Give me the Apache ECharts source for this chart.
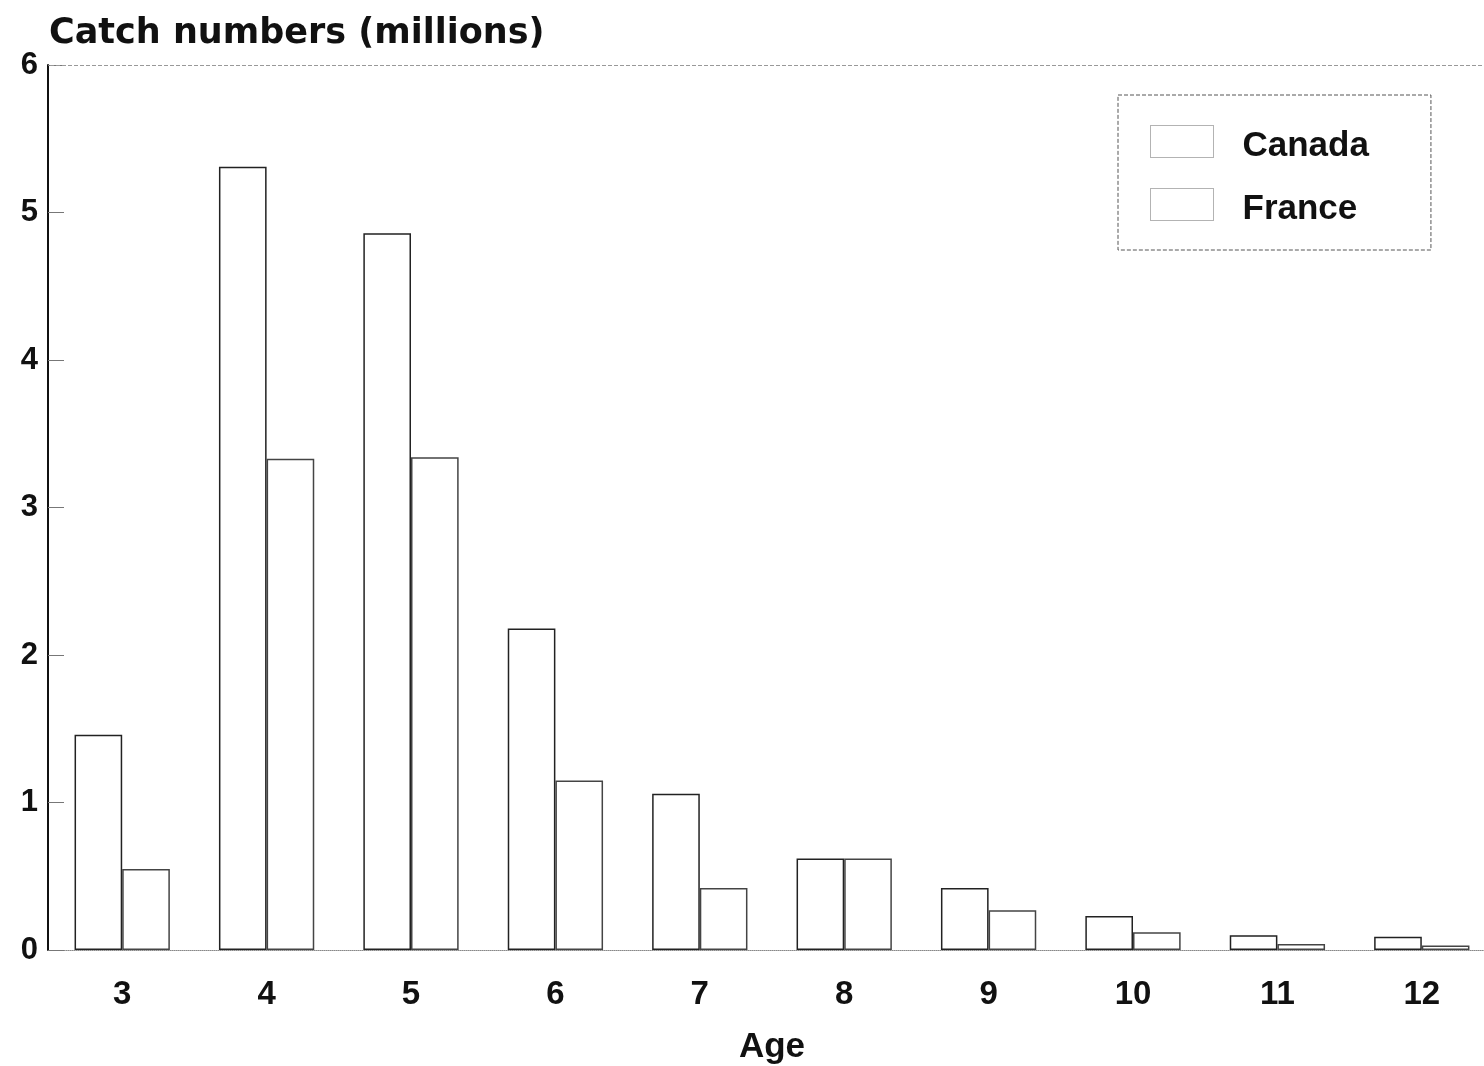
<!DOCTYPE html>
<html>
<head>
<meta charset="utf-8">
<title>Catch numbers by age</title>
<script src="https://cdn.jsdelivr.net/npm/echarts@6/dist/echarts.min.js"></script>
<style>
    html, body { margin: 0; padding: 0; background: #fff; }
    #chartMain { width: 1484px; height: 1066px; }
</style>
</head>
<body>
<div id="chartMain"></div>
<script>
    // data
    const ages = ['3', '4', '5', '6', '7', '8', '9', '10', '11', '12'];
    const canada = [1.46, 5.31, 4.86, 2.18, 1.06, 0.62, 0.42, 0.23, 0.10, 0.09];
    const france = [0.55, 3.33, 3.34, 1.15, 0.42, 0.62, 0.27, 0.12, 0.04, 0.03];

    const font = 'Liberation Sans';

    const myChart = echarts.init(document.getElementById('chartMain'));

    const barStyle = {
        color: '#fff',
        borderColor: '#222',
        borderWidth: 1.5
    };

    myChart.setOption({
        animation: false,
        backgroundColor: '#fff',
        title: {
            text: 'Catch numbers (millions)',
            left: 44,
            top: 11,
            textStyle: { fontFamily: 'DejaVu Sans', fontSize: 35, fontWeight: 'bold', color: '#111' }
        },
        legend: {
            orient: 'vertical',
            left: 1118,
            top: 95,
            padding: [30, 62, 23, 32],
            itemWidth: 63,
            itemHeight: 32,
            itemGap: 24,
            icon: 'rect',
            borderColor: '#555',
            borderWidth: 1,
            borderType: 'dashed',
            itemStyle: { color: '#fff', borderColor: '#666', borderWidth: 1, borderType: 'dotted' },
            formatter: '{t|{name}}',
            textStyle: {
                fontFamily: font, fontSize: 35, fontWeight: 'bold', color: '#111',
                padding: [0, 0, 0, 24],
                rich: { t: { fontFamily: font, fontSize: 35, fontWeight: 'bold', color: '#111', padding: [10, 0, 0, 0] } }
            },
            data: ['Canada', 'France']
        },
        grid: {
            left: 50,
            right: -10,
            top: 65,
            bottom: 116,
            containLabel: false,
            outerBoundsMode: 'none'
        },
        xAxis: {
            type: 'category',
            data: ages,
            name: 'Age',
            nameLocation: 'middle',
            nameGap: 80,
            nameTextStyle: { fontFamily: font, fontSize: 35, fontWeight: 'bold', color: '#111' },
            axisLine: { show: true, lineStyle: { color: '#888', width: 1, type: 'dotted' } },
            axisTick: { show: false },
            axisLabel: { fontFamily: font, fontSize: 33, fontWeight: 'bold', color: '#111', margin: 28 }
        },
        yAxis: {
            type: 'value',
            min: 0,
            max: 6,
            interval: 1,
            offset: 2,
            axisLine: { show: true, lineStyle: { color: '#111', width: 2 } },
            axisTick: { show: true, inside: true, length: 16, lineStyle: { color: '#777', width: 1 } },
            axisLabel: { fontFamily: font, fontSize: 31, fontWeight: 'bold', color: '#111', margin: 10 },
            splitLine: { show: false }
        },
        series: [
            {
                name: 'Canada',
                type: 'bar',
                data: canada,
                barGap: '0%',
                barCategoryGap: '34%',
                itemStyle: barStyle,
                markLine: {
                    // faint top frame line at 6
                    silent: true,
                    symbol: 'none',
                    label: { show: false },
                    lineStyle: { color: '#999', width: 1, type: 'dashed' },
                    data: [{ yAxis: 6 }]
                }
            },
            {
                name: 'France',
                type: 'bar',
                data: france,
                itemStyle: Object.assign({}, barStyle, { borderColor: '#444' })
            }
        ]
    });
</script>
</body>
</html>
